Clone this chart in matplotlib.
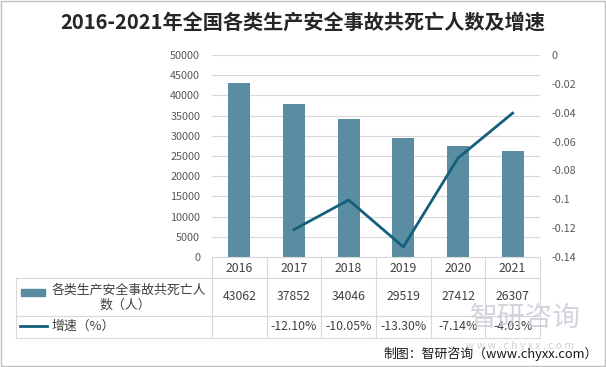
import matplotlib
matplotlib.use("Agg")
import matplotlib.pyplot as plt
import matplotlib.transforms as mtransforms
from matplotlib.lines import Line2D
from matplotlib.patches import Rectangle
import numpy as np

plt.rcParams['font.family'] = ['Noto Sans CJK SC', 'DejaVu Sans']

# data
years = ['2016', '2017', '2018', '2019', '2020', '2021']
deaths = [43062, 37852, 34046, 29519, 27412, 26307]
growth = [None, -0.1210, -0.1005, -0.1330, -0.0714, -0.0403]
growth_labels = ['', '-12.10%', '-10.05%', '-13.30%', '-7.14%', '-4.03%']
bar_name = '各类生产安全事故共死亡人数（人）'
line_name = '增速（%）'

bar_color = '#5b8da2'
line_color = '#135f7c'
grid_color = '#d9d9d9'
text_color = '#404040'
tick_color = '#595959'

W, H = 606, 367
fig = plt.figure(figsize=(W / 100, H / 100), dpi=100)

def fx(px):
    return px / W

def fy(py):
    return 1 - py / H

# plot area in pixels: x 212..540, y 55..257
ax = fig.add_axes([fx(212), fy(257), fx(540) - fx(212), fy(55) - fy(257)])
x = np.arange(len(years))
ax.bar(x, deaths, width=0.4, color=bar_color, zorder=2)
ax.set_xlim(-0.5, len(years) - 0.5)
ax.set_ylim(0, 50000)
ax.set_yticks(np.arange(0, 50001, 5000))
ax.yaxis.grid(True, color=grid_color, linewidth=0.8, zorder=0)
ax.set_xticks([])
for s in ['top', 'right', 'left']:
    ax.spines[s].set_visible(False)
ax.spines['bottom'].set_color(grid_color)
ax.tick_params(axis='y', length=0, pad=8.5, labelsize=7.8, labelcolor=tick_color)

ax2 = ax.twinx()
gx = [i for i, g in enumerate(growth) if g is not None]
gy = [g for g in growth if g is not None]
ax2.plot(gx, gy, color=line_color, linewidth=2.0, zorder=3)
ax2.set_ylim(-0.14, 0)
ax2.set_yticks(np.arange(-0.14, 0.001, 0.02))
ax2.yaxis.set_major_formatter(matplotlib.ticker.FuncFormatter(lambda v, p: '{:g}'.format(round(v, 2)) if abs(v) > 1e-9 else '0'))
for s in ['top', 'right', 'left', 'bottom']:
    ax2.spines[s].set_visible(False)
ax2.tick_params(axis='y', length=0, pad=8.5, labelsize=7.8, labelcolor=tick_color)

# title
fig.text(0.5, fy(22), '2016-2021年全国各类生产安全事故共死亡人数及增速',
         ha='center', va='center', fontsize=14.5, fontweight='bold', color='#262626')

# data table under the plot
tr = mtransforms.blended_transform_factory(ax.transData, fig.transFigure)
lw = 0.8
top, r1, r2, bot = fy(257), fy(278), fy(316), fy(338)
for b in np.arange(-0.5, len(years), 1.0):
    fig.add_artist(Line2D([b, b], [bot, top], transform=tr, color=grid_color, lw=lw))
for yy in [r1, r2, bot]:
    fig.add_artist(Line2D([fx(16), fx(540)], [yy, yy], color=grid_color, lw=lw))
fig.add_artist(Line2D([fx(16), fx(16)], [bot, r1], color=grid_color, lw=lw))

for i, yr in enumerate(years):
    fig.text(i, fy(268), yr, transform=tr, ha='center', va='center', fontsize=8.8, color=text_color)
    fig.text(i, fy(297), str(deaths[i]), transform=tr, ha='center', va='center', fontsize=8.8, color=text_color)
    fig.text(i, fy(327), growth_labels[i], transform=tr, ha='center', va='center', fontsize=8.8, color=text_color)

# row labels with legend keys
fig.add_artist(Rectangle((fx(21), fy(296)), fx(45) - fx(21), fy(289) - fy(296), color=bar_color))
fig.text(fx(52), fy(290), bar_name[:12], ha='left', va='center', fontsize=9.3, color=text_color)
fig.text(fx(125), fy(305), bar_name[12:], ha='center', va='center', fontsize=9.3, color=text_color)
fig.add_artist(Line2D([fx(20), fx(47)], [fy(326), fy(326)], color=line_color, lw=2.0))
fig.text(fx(52), fy(326), line_name, ha='left', va='center', fontsize=9.3, color=text_color)

# watermark and source
fig.text(fx(470), fy(318), '智研咨询', ha='left', va='center', fontsize=20, color='#c5cad3', alpha=0.8)
fig.text(fx(466), fy(346), 'w w w . c h y x x . c o m', ha='left', va='center', fontsize=7.5, color='#d0d0d0')
fig.text(fx(598), fy(354), '制图：智研咨询（www.chyxx.com）', ha='right', va='center', fontsize=9.3, color='#1a1a1a')

# thin frame round the picture
fig.add_artist(Rectangle((0.001, 0.002), 0.997, 0.995, fill=False, edgecolor='#bfbfbf', lw=1.0))

fig.savefig('out.png', dpi=100)
